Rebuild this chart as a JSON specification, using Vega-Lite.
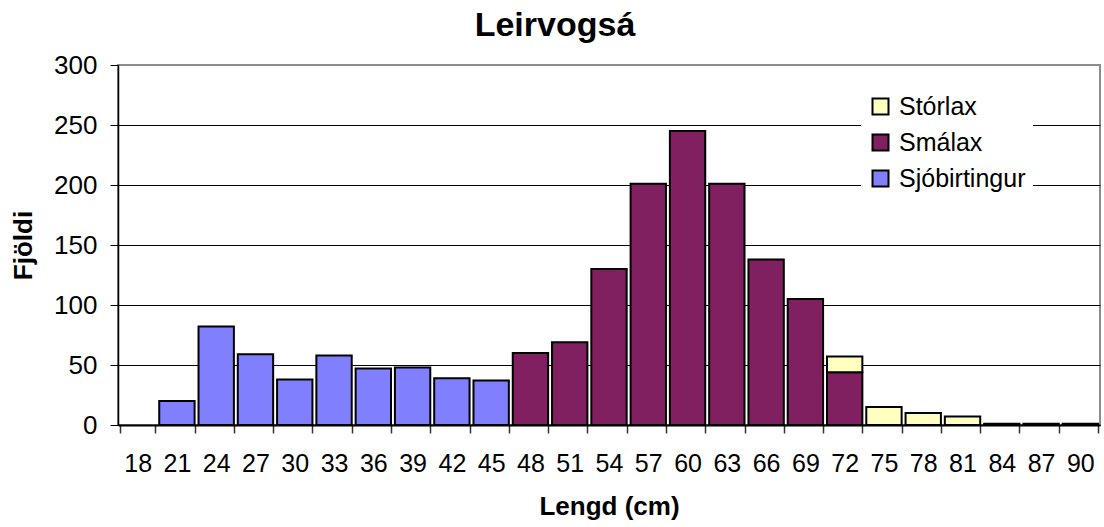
{
  "$schema": "https://vega.github.io/schema/vega-lite/v6.json",
  "width": 982,
  "height": 360,
  "autosize": {"type": "none"},
  "padding": {"left": 118, "top": 65, "right": 4, "bottom": 102},
  "background": "white",
  "config": {
    "font": "Liberation Sans",
    "view": {"stroke": "#8c8c8c", "strokeWidth": 2}
  },
  "title": {
    "text": "Leirvogsá",
    "fontSize": 34,
    "fontWeight": "bold",
    "font": "Liberation Sans",
    "color": "black",
    "anchor": "middle",
    "baseline": "top",
    "offset": 9,
    "dx": -54
  },
  "data": {
    "values": [
      {"lengd": "21", "tegund": "Sjóbirtingur", "fjoldi": 20},
      {"lengd": "24", "tegund": "Sjóbirtingur", "fjoldi": 82},
      {"lengd": "27", "tegund": "Sjóbirtingur", "fjoldi": 59},
      {"lengd": "30", "tegund": "Sjóbirtingur", "fjoldi": 38},
      {"lengd": "33", "tegund": "Sjóbirtingur", "fjoldi": 58},
      {"lengd": "36", "tegund": "Sjóbirtingur", "fjoldi": 47},
      {"lengd": "39", "tegund": "Sjóbirtingur", "fjoldi": 48},
      {"lengd": "42", "tegund": "Sjóbirtingur", "fjoldi": 39},
      {"lengd": "45", "tegund": "Sjóbirtingur", "fjoldi": 37},
      {"lengd": "48", "tegund": "Smálax", "fjoldi": 60},
      {"lengd": "51", "tegund": "Smálax", "fjoldi": 69},
      {"lengd": "54", "tegund": "Smálax", "fjoldi": 130},
      {"lengd": "57", "tegund": "Smálax", "fjoldi": 201},
      {"lengd": "60", "tegund": "Smálax", "fjoldi": 245},
      {"lengd": "63", "tegund": "Smálax", "fjoldi": 201},
      {"lengd": "66", "tegund": "Smálax", "fjoldi": 138},
      {"lengd": "69", "tegund": "Smálax", "fjoldi": 105},
      {"lengd": "72", "tegund": "Smálax", "fjoldi": 44},
      {"lengd": "72", "tegund": "Stórlax", "fjoldi": 13},
      {"lengd": "75", "tegund": "Stórlax", "fjoldi": 15},
      {"lengd": "78", "tegund": "Stórlax", "fjoldi": 10},
      {"lengd": "81", "tegund": "Stórlax", "fjoldi": 7},
      {"lengd": "84", "tegund": "Stórlax", "fjoldi": 1},
      {"lengd": "87", "tegund": "Stórlax", "fjoldi": 1},
      {"lengd": "90", "tegund": "Stórlax", "fjoldi": 1}
    ]
  },
  "mark": {"type": "bar", "stroke": "black", "strokeWidth": 2},
  "encoding": {
    "x": {
      "field": "lengd",
      "type": "ordinal",
      "scale": {
        "domain": ["18","21","24","27","30","33","36","39","42","45","48","51","54","57","60","63","66","69","72","75","78","81","84","87","90"],
        "paddingInner": 0.1,
        "paddingOuter": 0.05
      },
      "axis": {
        "title": "Lengd (cm)",
        "labelAngle": 0,
        "labelFontSize": 25,
        "labelColor": "black",
        "labelPadding": 18,
        "tickBand": "extent",
        "tickSize": 8,
        "tickColor": "#333",
        "tickWidth": 1.5,
        "domainColor": "black",
        "domainWidth": 2,
        "grid": false,
        "titleFontSize": 26,
        "titleFontWeight": "bold",
        "titleColor": "black",
        "titlePadding": 17
      }
    },
    "y": {
      "field": "fjoldi",
      "type": "quantitative",
      "aggregate": "sum",
      "stack": "zero",
      "scale": {"domain": [0, 300], "nice": false},
      "axis": {
        "title": "Fjöldi",
        "values": [0, 50, 100, 150, 200, 250, 300],
        "labelFontSize": 26,
        "labelColor": "black",
        "labelPadding": 13,
        "tickSize": 8,
        "tickColor": "black",
        "domainColor": "black",
        "domainWidth": 1.5,
        "grid": true,
        "gridColor": {"condition": {"test": "datum.value === 300", "value": "#8c8c8c"}, "value": "black"},
        "gridWidth": 1,
        "titleFontSize": 26,
        "titleFontWeight": "bold",
        "titleColor": "black",
        "titlePadding": 17
      }
    },
    "color": {
      "field": "tegund",
      "type": "nominal",
      "scale": {
        "domain": ["Stórlax", "Smálax", "Sjóbirtingur"],
        "range": ["#FFFFC0", "#802060", "#8080FF"]
      },
      "legend": {
        "title": null,
        "orient": "none",
        "legendX": 743,
        "legendY": 22,
        "fillColor": "white",
        "padding": 7,
        "labelFontSize": 25,
        "labelColor": "black",
        "labelOffset": 6,
        "rowPadding": 10,
        "symbolType": "square",
        "symbolSize": 256,
        "symbolStrokeColor": "black",
        "symbolStrokeWidth": 2,
        "symbolOpacity": 1
      }
    },
    "order": {"field": "tegund", "sort": "ascending"}
  }
}
